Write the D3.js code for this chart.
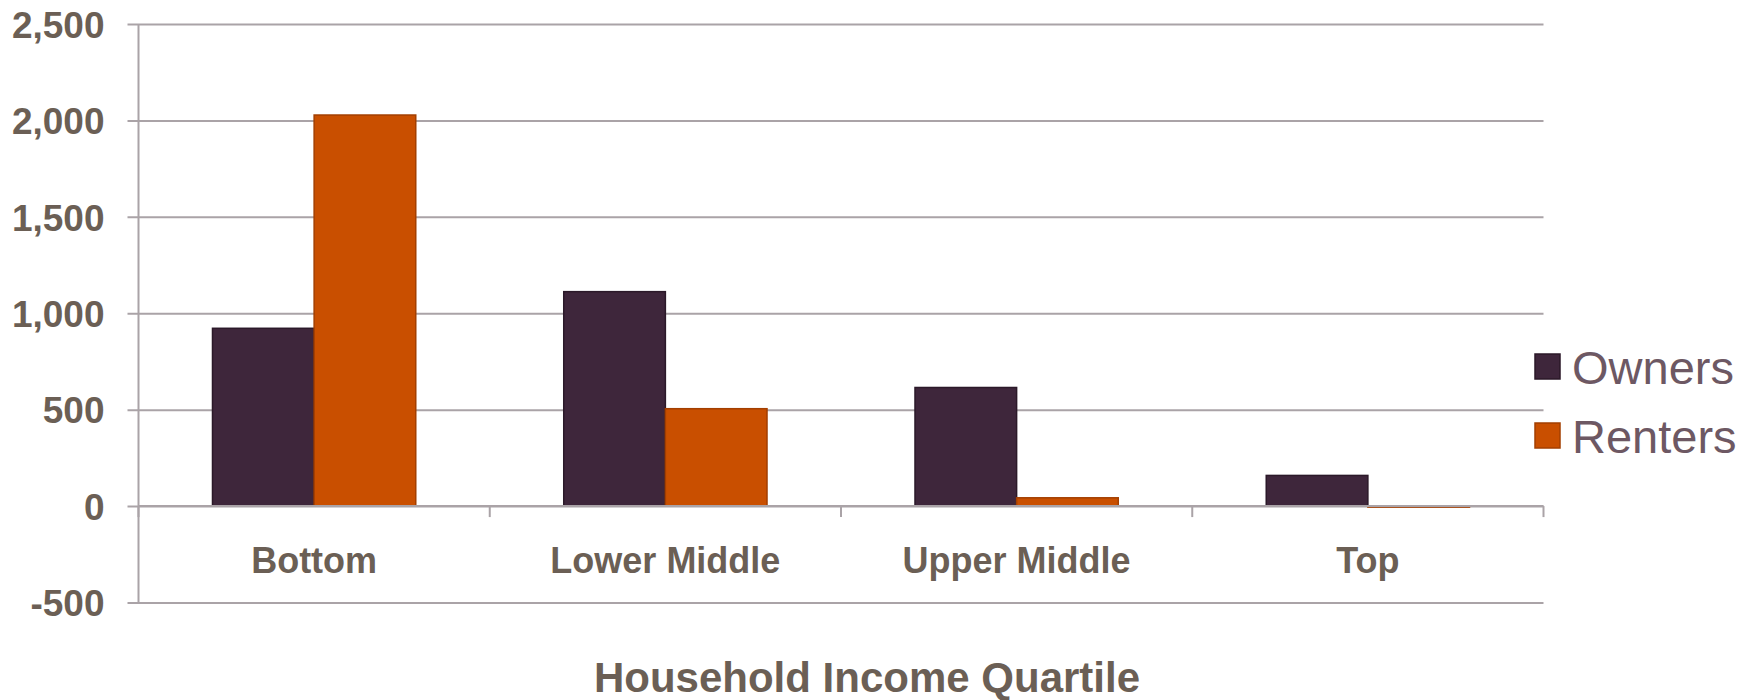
<!DOCTYPE html>
<html>
<head>
<meta charset="utf-8">
<script src="https://cdn.jsdelivr.net/npm/d3@7"></script>
<style>
  html, body { margin: 0; padding: 0; background: #fff; }
  svg { display: block; font-family: "Liberation Sans", Arial, sans-serif; }
</style>
</head>
<body>
<svg id="chart" width="1754" height="700"></svg>
<script>
const categories = ["Bottom", "Lower Middle", "Upper Middle", "Top"];
const seriesNames = ["Owners", "Renters"];
const owners = [922, 1112, 615, 159];
const renters = [2028, 505, 43, -3];
const yTicks = [-500, 0, 500, 1000, 1500, 2000, 2500];
const xTitle = "Household Income Quartile";

const colors = { Owners: "#3e263b", Renters: "#c94f00" };
const strokes = { Owners: "#2b1929", Renters: "#a33f00" };
const gridColor = "#aaa3a7";
const textColor = "#6b5f55";
const legendColor = "#6d5863";

const svg = d3.select("#chart");
const plotLeft = 138.5, plotRight = 1543.5, plotTop = 24, plotBottom = 602.5;

const y = d3.scaleLinear().domain([-500, 2500]).range([plotBottom, plotTop]);
const x0 = d3.scaleBand().domain(categories).range([plotLeft, plotRight]).padding(0);
const x1 = d3.scaleBand().domain(seriesNames).range([0, x0.bandwidth()]).paddingInner(0).paddingOuter(0.728);

const data = categories.map((c, i) => ({ cat: c, values: [
  { key: "Owners", value: owners[i] },
  { key: "Renters", value: renters[i] }
]}));

const fmt = d3.formatLocale({ decimal: ".", thousands: ",", grouping: [3], currency: ["$", ""], minus: "-" }).format(",");

// Gridlines with ticks to the left
const yAxis = d3.axisLeft(y).tickValues(yTicks).tickSize(-(plotRight - plotLeft)).tickFormat(fmt);
const gy = svg.append("g").attr("transform", `translate(${plotLeft},0)`).call(yAxis);
gy.select(".domain").remove();
gy.selectAll(".tick line").attr("stroke", gridColor).attr("stroke-width", 2).attr("x1", -11);
gy.selectAll(".tick text")
  .attr("x", -34)
  .attr("dy", "0.36em")
  .attr("fill", textColor)
  .style("font-size", "37px")
  .style("font-weight", "bold");

// Y axis line
svg.append("line")
  .attr("x1", plotLeft).attr("x2", plotLeft)
  .attr("y1", y(2500)).attr("y2", y(-500))
  .attr("stroke", gridColor).attr("stroke-width", 2);

// Bars
const groups = svg.append("g").selectAll("g").data(data).join("g")
  .attr("transform", d => `translate(${x0(d.cat)},0)`);
groups.selectAll("rect").data(d => d.values).join("rect")
  .attr("x", d => x1(d.key))
  .attr("width", x1.bandwidth())
  .attr("y", d => y(Math.max(0, d.value)))
  .attr("height", d => Math.max(1, Math.abs(y(d.value) - y(0))))
  .attr("fill", d => colors[d.key])
  .attr("stroke", d => strokes[d.key])
  .attr("stroke-width", 1.5);

// Zero axis line and category ticks
svg.append("line")
  .attr("x1", plotLeft).attr("x2", plotRight)
  .attr("y1", y(0)).attr("y2", y(0))
  .attr("stroke", gridColor).attr("stroke-width", 2);
const boundaries = categories.map(c => x0(c)).concat([plotRight]);
svg.append("g").selectAll("line").data(boundaries).join("line")
  .attr("x1", d => d).attr("x2", d => d)
  .attr("y1", y(0)).attr("y2", y(0) + 11)
  .attr("stroke", gridColor).attr("stroke-width", 2);

// Category labels
svg.append("g").selectAll("text").data(categories).join("text")
  .attr("x", d => x0(d) + x0.bandwidth() / 2)
  .attr("y", 572.5)
  .attr("text-anchor", "middle")
  .attr("fill", textColor)
  .style("font-size", "36px")
  .style("font-weight", "bold")
  .text(d => d);

// Axis title
svg.append("text")
  .attr("x", 867)
  .attr("y", 692)
  .attr("text-anchor", "middle")
  .attr("fill", textColor)
  .style("font-size", "42px")
  .style("font-weight", "bold")
  .text(xTitle);

// Legend
const legend = svg.append("g").selectAll("g").data(seriesNames).join("g")
  .attr("transform", (d, i) => `translate(1535, ${354 + i * 69})`);
legend.append("rect")
  .attr("width", 25).attr("height", 25)
  .attr("fill", d => colors[d])
  .attr("stroke", d => strokes[d]).attr("stroke-width", 1.5);
legend.append("text")
  .attr("x", 37).attr("y", 29.5)
  .attr("fill", legendColor)
  .style("font-size", "47px")
  .text(d => d);
</script>
</body>
</html>
